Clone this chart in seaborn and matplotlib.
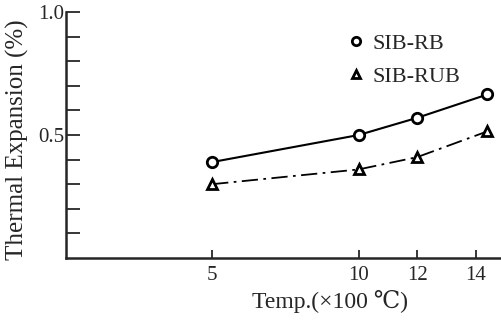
import pandas as pd
import seaborn as sns
from matplotlib import pyplot as plt
from matplotlib.lines import Line2D

# Werte
temp = [5, 10, 12, 14.4]
rb = [0.39, 0.50, 0.57, 0.665]
rub = [0.30, 0.36, 0.41, 0.515]

df = pd.DataFrame({"temp": temp + temp,
                   "exp": rb + rub,
                   "serie": ["SIB-RB"] * 4 + ["SIB-RUB"] * 4})

sns.set_style("ticks")
plt.rcParams['font.family'] = ['Liberation Serif', 'DejaVu Serif']

fig = plt.figure(figsize=(5.02, 3.2), dpi=100)
ax = fig.add_axes([0.131, 0.194, 0.869, 0.768])

d1 = df[df["serie"] == "SIB-RB"]
d2 = df[df["serie"] == "SIB-RUB"]
sns.lineplot(data=d1, x="temp", y="exp", ax=ax, color="black", lw=1.5,
             marker="o", markersize=7.5, markerfacecolor="white",
             markeredgecolor="black", markeredgewidth=2, legend=False)
sns.lineplot(data=d2, x="temp", y="exp", ax=ax, color="black", lw=1.3,
             marker="^", markersize=7.5, markerfacecolor="white",
             markeredgecolor="black", markeredgewidth=2, legend=False,
             dashes=False)
ax.lines[1].set_dashes([9, 3, 1.5, 3])

ax.set_xlim(0, 14.9)
ax.set_ylim(0, 1.0)
ax.set_xticks([5, 10, 12, 14])
ax.set_xticklabels(["5", "10", "12", "14"])
ax.set_yticks([0.1 * i for i in range(1, 11)])
ax.set_yticklabels(["" if i not in (5, 10) else ("0.5" if i == 5 else "1.0") for i in range(1, 11)])
ax.tick_params(direction="in", width=1.3, labelsize=15)
ax.tick_params(axis="y", length=10, pad=1)
ax.tick_params(axis="x", length=6, pad=6)
for s in ["top", "right"]:
    ax.spines[s].set_visible(False)
for s in ["left", "bottom"]:
    ax.spines[s].set_linewidth(1.8)

ax.set_xlabel("Temp.(×100 ℃)", fontsize=17)
ax.xaxis.set_label_coords(0.605, -0.13)
ax.set_ylabel("Thermal Expansion (%)", fontsize=18)
ax.yaxis.set_label_coords(-0.085, 0.48)

handles = [Line2D([], [], ls="none", marker="o", color="black", markerfacecolor="white",
                  markeredgewidth=2, markersize=6),
           Line2D([], [], ls="none", marker="^", color="black", markerfacecolor="white",
                  markeredgewidth=2, markersize=6)]
ax.legend(handles, ["SIB-RB", "SIB-RUB"], frameon=False, fontsize=16,
          loc="upper left", bbox_to_anchor=(0.59, 0.995), handletextpad=0.1,
          handlelength=1.2, labelspacing=0.55)

fig.savefig("out.png", dpi=100)
